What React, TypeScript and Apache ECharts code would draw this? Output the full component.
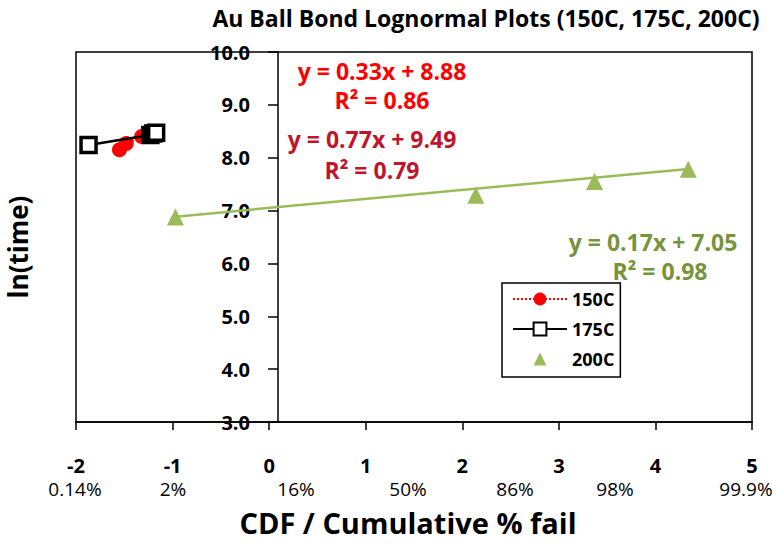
import React, { useEffect, useRef } from "react";
import * as echarts from "echarts";

// ---- data ----
const xTickValues = [-2, -1, 0, 1, 2, 3, 4, 5];
const cdfLabels = ["0.14%", "2%", "16%", "50%", "86%", "98%", "99.9%"];
const yTickValues = [3, 4, 5, 6, 7, 8, 9, 10];

const s150X = [-1.55, -1.48, -1.32, -1.2];
const s150Y = [8.15, 8.27, 8.4, 8.45];
const s175X = [-1.87, -1.23, -1.2, -1.17];
const s175Y = [8.24, 8.43, 8.46, 8.47];
const s200X = [-0.97, 2.14, 3.37, 4.34];
const s200Y = [6.88, 7.29, 7.55, 7.78];

const trend200 = [0.17, 7.05]; // slope, intercept
const eqTexts150 = ["y = 0.33x + 8.88", "R² = 0.86"];
const eqTexts175 = ["y = 0.77x + 9.49", "R² = 0.79"];
const eqTexts200 = ["y = 0.17x + 7.05", "R² = 0.98"];
const seriesNames = ["150C", "175C", "200C"];

// ---- layout ----
const FONT = "'Open Sans', Lato, sans-serif";
const cdfLabelX = [75, 173, 296, 408, 515, 615, 746];

const zip = (xs: number[], ys: number[]) => xs.map((x, i) => [x, ys[i]]);

export default function App() {
  const ref = useRef<HTMLDivElement>(null);
  useEffect(() => {
    if (!ref.current) return;
    const chart = echarts.init(ref.current, null, { renderer: "svg" });
    const tMin = Math.min(...s200X);
    const tMax = Math.max(...s200X);
    const trendData = [tMin, tMax].map((x) => [x, trend200[0] * x + trend200[1]]);
    const eqStyle = (color: string) => ({
      fill: color,
      font: `bold 23px ${FONT}`,
      textAlign: "center",
      textVerticalAlign: "middle",
    });
    chart.setOption({
      animation: false,
      backgroundColor: "#fff",
      grid: {
        left: 76,
        right: 20,
        top: 52,
        bottom: 122,
        show: true,
        borderColor: "#000",
        borderWidth: 1.5,
        backgroundColor: "transparent",
      },
      xAxis: {
        type: "value",
        min: -2,
        max: 5,
        interval: 1,
        axisLine: { show: true, onZero: false, lineStyle: { color: "#000", width: 1.5 } },
        axisTick: { show: true, length: 8, lineStyle: { color: "#000", width: 1.5 } },
        splitLine: { show: false },
        axisLabel: {
          margin: 33,
          color: "#000",
          fontFamily: FONT,
          fontWeight: "bold",
          fontSize: 20,
          formatter: (v: number) => (xTickValues.includes(v) ? String(v) : ""),
        },
      },
      yAxis: {
        type: "value",
        min: 3,
        max: 10,
        interval: 1,
        offset: -202,
        axisLine: { show: true, onZero: false, lineStyle: { color: "#000", width: 1.5 } },
        axisTick: { show: true, length: 10, lineStyle: { color: "#000", width: 1.5 } },
        splitLine: { show: false },
        axisLabel: {
          margin: 28,
          color: "#000",
          fontFamily: FONT,
          fontWeight: "bold",
          fontSize: 20,
          formatter: (v: number) => (yTickValues.includes(v) ? v.toFixed(1) : ""),
        },
      },
      legend: {
        data: seriesNames,
        orient: "vertical",
        left: 502,
        top: 283,
        itemWidth: 54,
        itemHeight: 16,
        itemGap: 12,
        padding: [7, 6, 9, 10],
        borderColor: "#000",
        borderWidth: 1.5,
        backgroundColor: "#fff",
        textStyle: { fontFamily: FONT, fontWeight: "bold", fontSize: 18, color: "#000" },
      },
      graphic: [
        {
          type: "text",
          x: 486,
          y: 18,
          style: {
            text: "Au Ball Bond Lognormal Plots (150C, 175C, 200C)",
            fill: "#000",
            font: `bold 23px ${FONT}`,
            textAlign: "center",
            textVerticalAlign: "middle",
          },
        },
        {
          type: "text",
          x: 18,
          y: 247,
          rotation: Math.PI / 2,
          style: {
            text: "ln(time)",
            fill: "#000",
            font: `bold 26px ${FONT}`,
            textAlign: "center",
            textVerticalAlign: "middle",
          },
        },
        {
          type: "text",
          x: 408,
          y: 522,
          style: {
            text: "CDF / Cumulative % fail",
            fill: "#000",
            font: `bold 29px ${FONT}`,
            textAlign: "center",
            textVerticalAlign: "middle",
          },
        },
        ...cdfLabels.map((t, i) => ({
          type: "text",
          x: cdfLabelX[i],
          y: 489,
          style: {
            text: t,
            fill: "#000",
            font: `19px ${FONT}`,
            textAlign: "center",
            textVerticalAlign: "middle",
          },
        })),
        { type: "text", x: 382, y: 71, style: { text: eqTexts150[0], ...eqStyle("#ff0000") } },
        { type: "text", x: 382, y: 100, style: { text: eqTexts150[1], ...eqStyle("#ff0000") } },
        { type: "text", x: 372, y: 139, style: { text: eqTexts175[0], ...eqStyle("#c0142c") } },
        { type: "text", x: 372, y: 170, style: { text: eqTexts175[1], ...eqStyle("#c0142c") } },
        { type: "text", x: 653, y: 242, style: { text: eqTexts200[0], ...eqStyle("#77933c") } },
        { type: "text", x: 660, y: 271, style: { text: eqTexts200[1], ...eqStyle("#77933c") } },
      ],
      series: [
        {
          name: "200C trend",
          type: "line",
          data: trendData,
          symbol: "none",
          lineStyle: { color: "#9bbb59", width: 2.5 },
          z: 1,
        },
        {
          name: "200C",
          type: "line",
          data: zip(s200X, s200Y),
          symbol: "triangle",
          symbolSize: 17,
          lineStyle: { width: 0, opacity: 0 },
          itemStyle: { color: "#9bbb59" },
          z: 3,
        },
        {
          name: "150C",
          type: "line",
          data: zip(s150X, s150Y),
          symbol: "circle",
          symbolSize: 15,
          lineStyle: { color: "#ff0000", width: 2.5, type: "dotted" },
          itemStyle: { color: "#ff0000" },
          z: 3,
        },
        {
          name: "175C",
          type: "line",
          data: zip(s175X, s175Y),
          symbol: "rect",
          symbolSize: 15,
          lineStyle: { color: "#000", width: 2.5 },
          itemStyle: { color: "#fff", borderColor: "#000", borderWidth: 3.5 },
          z: 4,
        },
      ],
    });
    return () => chart.dispose();
  }, []);
  return <div ref={ref} style={{ width: 772, height: 544, position: "absolute", left: 0, top: 0 }} />;
}
